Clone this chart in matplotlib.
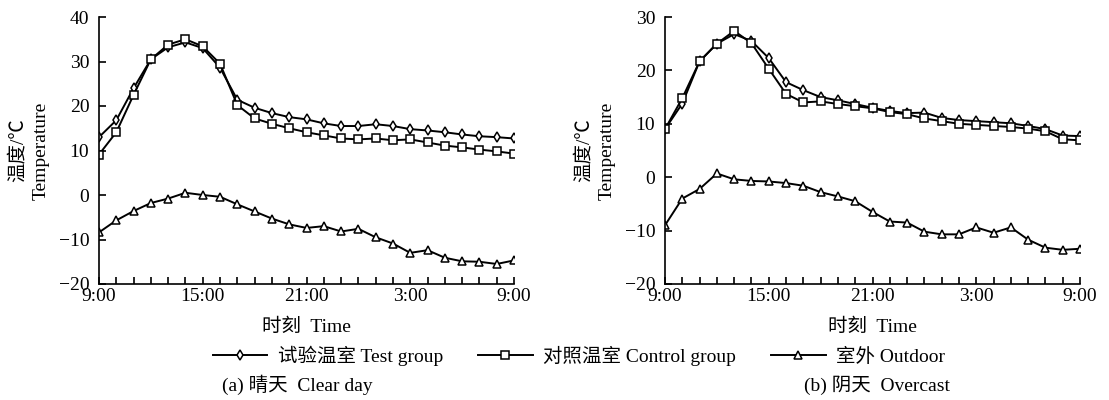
import matplotlib
matplotlib.use("Agg")
import matplotlib.pyplot as plt
from matplotlib.lines import Line2D

plt.rcParams['font.family'] = ['Liberation Serif', 'Noto Sans CJK SC', 'DejaVu Sans']
plt.rcParams['mathtext.fontset'] = 'stix'

times = ["9:00", "10:00", "11:00", "12:00", "13:00", "14:00", "15:00", "16:00", "17:00",
         "18:00", "19:00", "20:00", "21:00", "22:00", "23:00", "0:00", "1:00", "2:00",
         "3:00", "4:00", "5:00", "6:00", "7:00", "8:00", "9:00"]

left_test = [13.0, 16.8, 24.0, 30.5, 33.2, 34.3, 33.0, 28.6, 21.4, 19.6, 18.4, 17.5, 17.0,
             16.1, 15.5, 15.5, 15.9, 15.5, 14.8, 14.5, 14.1, 13.6, 13.2, 13.0, 12.7]
left_control = [9.1, 14.1, 22.5, 30.5, 33.8, 35.0, 33.4, 29.5, 20.2, 17.2, 16.0, 15.0, 14.1,
                13.4, 12.7, 12.5, 12.7, 12.3, 12.5, 11.8, 11.1, 10.7, 10.2, 9.8, 9.3]
left_outdoor = [-8.4, -5.7, -3.6, -1.8, -0.8, 0.5, 0.0, -0.4, -2.1, -3.7, -5.3, -6.6, -7.4,
                -7.0, -8.2, -7.6, -9.5, -10.9, -13.0, -12.4, -14.1, -14.9, -15.0, -15.5, -14.7]

right_test = [9.0, 13.8, 21.7, 25.0, 26.8, 25.5, 22.3, 17.8, 16.3, 15.0, 14.4, 13.7, 13.0,
              12.4, 12.0, 12.1, 11.1, 10.7, 10.5, 10.3, 10.1, 9.6, 9.0, 7.8, 7.7]
right_control = [9.0, 14.8, 21.7, 25.0, 27.4, 25.1, 20.3, 15.6, 14.0, 14.2, 13.7, 13.3, 12.9,
                 12.2, 11.8, 11.0, 10.5, 10.0, 9.8, 9.6, 9.4, 9.1, 8.6, 7.1, 6.9]
right_outdoor = [-9.0, -4.0, -2.2, 0.7, -0.4, -0.7, -0.8, -1.1, -1.6, -2.8, -3.6, -4.5, -6.5,
                 -8.3, -8.5, -10.2, -10.7, -10.7, -9.4, -10.4, -9.4, -11.7, -13.2, -13.6, -13.4]

series_names = ["试验温室 Test group", "对照温室 Control group", "室外 Outdoor"]
panel_titles = ["(a) 晴天  Clear day", "(b) 阴天  Overcast"]
ylabel = "温度/℃\nTemperature"
xlabel = "时刻  Time"

FS = 14
LW = 1.4
styles = [dict(marker='d', ms=5.5, mfc='white', mec='black', mew=1.1),
          dict(marker='s', ms=6, mfc='white', mec='black', mew=1.1),
          dict(marker='^', ms=5.5, mfc='white', mec='black', mew=1.1)]

fig = plt.figure(figsize=(11.09, 4.0), dpi=100)
W, H = 1109, 400
def add_ax(x0, x1, y_top, y_bot):
    return fig.add_axes([x0 / W, 1 - y_bot / H, (x1 - x0) / W, (y_bot - y_top) / H])

ax1 = add_ax(99, 514, 17, 284)
ax2 = add_ax(665, 1080, 17, 284)

x = list(range(len(times)))
for ax, data, ylim in [(ax1, (left_test, left_control, left_outdoor), (-20, 40)),
                       (ax2, (right_test, right_control, right_outdoor), (-20, 30))]:
    for vals, st in zip(data, styles):
        ax.plot(x, vals, color='black', lw=LW, **st)
    ax.set_xlim(0, len(times) - 1)
    ax.set_ylim(*ylim)
    ax.set_yticks(range(ylim[0], ylim[1] + 1, 10))
    ax.set_xticks(x)
    ax.set_xticklabels([t if i % 6 == 0 else "" for i, t in enumerate(times)])
    ax.tick_params(axis='both', direction='in', length=5, width=1.2, labelsize=FS)
    ax.tick_params(axis='y', pad=7)
    ax.tick_params(axis='x', pad=3)
    for s in ['top', 'right']:
        ax.spines[s].set_visible(False)
    for s in ['left', 'bottom']:
        ax.spines[s].set_linewidth(1.2)
    ax.set_xlabel(xlabel, fontsize=FS, va='center')
    ax.xaxis.set_label_coords(0.5, -(327 - 284) / 267)
    ax.set_ylabel(ylabel, fontsize=FS, va='center', ha='center', linespacing=1.45)
    ax.yaxis.set_label_coords(-70 / 415, 0.5)

handles = [Line2D([], [], color='black', lw=LW, **st) for st in styles]
fig.legend(handles, series_names, loc='center', bbox_to_anchor=(579 / W, 1 - 356 / H),
           ncol=3, frameon=False, fontsize=FS, handlelength=2.8, handletextpad=0.55,
           columnspacing=1.8, borderpad=0, borderaxespad=0)

fig.text(222 / W, 1 - 385 / H, panel_titles[0], fontsize=FS, ha='left', va='center')
fig.text(950 / W, 1 - 385 / H, panel_titles[1], fontsize=FS, ha='right', va='center')

fig.savefig("out.png", dpi=100)
